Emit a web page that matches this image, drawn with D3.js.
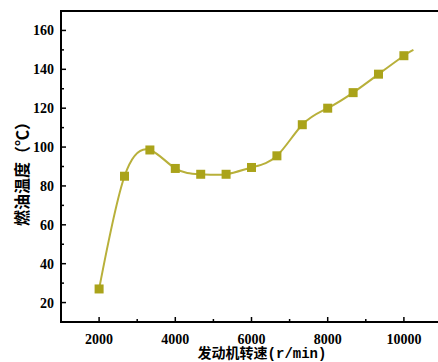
<!DOCTYPE html>
<html>
<head>
<meta charset="utf-8">
<script src="https://cdn.jsdelivr.net/npm/d3@7"></script>
<style>
body { margin: 0; background: #fff; }
.tick-label { font-family: "Liberation Serif", "DejaVu Serif", serif; font-weight: bold; font-size: 14px; }
</style>
</head>
<body>
<script>
// engine speed (r/min) and fuel temperature (C)
var speeds = [2000, 2667, 3333, 4000, 4667, 5333, 6000, 6667, 7333, 8000, 8667, 9333, 10000];
var temps = [27, 85, 98.5, 89, 86, 86, 89.5, 95.5, 111.5, 120, 128, 137.5, 147];
// the fitted curve runs a bit past the last marker
var tailSpeed = [10250];
var tailTemp = [150];

var xTicks = [2000, 4000, 6000, 8000, 10000];
var yTicks = [20, 40, 60, 80, 100, 120, 140, 160];

var W = 438, H = 362;
var margin = {left: 61, top: 11, bottom: 322};

var svg = d3.select("body").append("svg")
    .attr("width", W)
    .attr("height", H);

var x = d3.scaleLinear().domain([1000, 11000]).range([margin.left, 442]);
var y = d3.scaleLinear().domain([10, 170]).range([margin.bottom, margin.top]);

var color = "#aaa31a";
var lineColor = "#b8b03a";

var pts = speeds.map(function(s, i) { return [s, temps[i]]; });
var linePts = pts.concat(tailSpeed.map(function(s, i) { return [s, tailTemp[i]]; }));

// frame (left, top, bottom)
svg.append("path")
    .attr("d", "M" + (W + 5) + "," + margin.top + "H" + margin.left + "V" + margin.bottom + "H" + (W + 5))
    .attr("fill", "none")
    .attr("stroke", "#000")
    .attr("stroke-width", 2);

// x ticks (inward)
var xMinor = d3.range(2000, 11000, 1000);
svg.selectAll(".xt").data(xMinor).enter().append("line")
    .attr("x1", d => x(d)).attr("x2", d => x(d))
    .attr("y1", margin.bottom).attr("y2", d => margin.bottom - (d % 2000 === 0 ? 5 : 3))
    .attr("stroke", "#000").attr("stroke-width", 1.5);
svg.selectAll(".xl").data(xTicks).enter().append("text")
    .attr("class", "tick-label")
    .attr("x", d => x(d)).attr("y", 344)
    .attr("text-anchor", "middle")
    .text(d => d);

// y ticks (inward)
var yMinor = d3.range(20, 170, 10);
svg.selectAll(".yt").data(yMinor).enter().append("line")
    .attr("x1", margin.left).attr("x2", d => margin.left + (d % 20 === 0 ? 5 : 3))
    .attr("y1", d => y(d)).attr("y2", d => y(d))
    .attr("stroke", "#000").attr("stroke-width", 1.5);
svg.selectAll(".yl").data(yTicks).enter().append("text")
    .attr("class", "tick-label")
    .attr("x", 54).attr("y", d => y(d) + 5)
    .attr("text-anchor", "end")
    .text(d => d);

// curve
var line = d3.line()
    .x(d => x(d[0]))
    .y(d => y(d[1]))
    .curve(d3.curveNatural);

svg.append("path")
    .attr("d", line(linePts))
    .attr("fill", "none")
    .attr("stroke", lineColor)
    .attr("stroke-width", 2);

// markers
svg.selectAll(".m").data(pts).enter().append("rect")
    .attr("x", d => x(d[0]) - 4.5)
    .attr("y", d => y(d[1]) - 4.5)
    .attr("width", 9).attr("height", 9)
    .attr("fill", color);

// axis titles
var xt = svg.append("text")
    .attr("x", 262).attr("y", 358)
    .attr("text-anchor", "middle")
    .style("font-weight", "bold")
    .style("font-size", "14px");
xt.append("tspan").style("font-family", "'Noto Sans CJK SC', sans-serif").text("发动机转速");
xt.append("tspan").style("font-family", "'Liberation Mono', monospace").text("(r/min)");

svg.append("text")
    .attr("transform", "translate(28,170) rotate(-90)")
    .attr("text-anchor", "middle")
    .style("font-family", "'Noto Sans CJK SC', sans-serif")
    .style("font-weight", "bold")
    .style("font-size", "16px")
    .text("燃油温度（℃）");
</script>
</body>
</html>
